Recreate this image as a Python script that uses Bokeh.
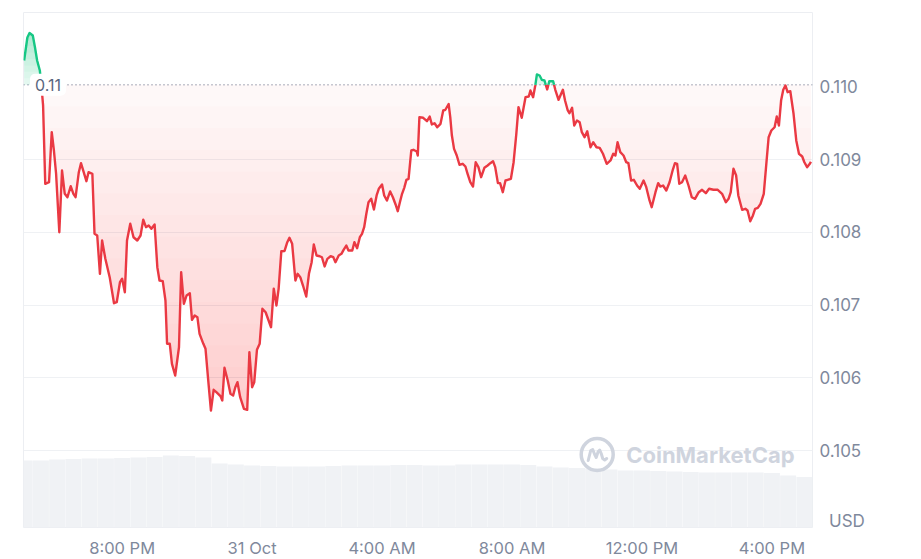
import numpy as np
import pandas as pd
from bokeh.plotting import figure
from bokeh.models import Range1d, FixedTicker, NumeralTickFormatter, Span, Label
from bokeh.embed import file_html
from bokeh.resources import INLINE

# ---------------- data ----------------
start_time = "2024-10-30 17:00"
minutes_from_start = [
    -1, 5, 9, 15, 19, 23, 28, 31, 34, 38, 45, 50, 54, 58, 64, 69, 74, 79, 85, 90,
    94, 100, 104, 109, 114, 118, 125, 129, 134, 139, 143, 149, 157, 165, 170, 176, 180, 185, 189, 195,
    201, 208, 214, 219, 224, 229, 234, 240, 245, 249, 255, 260, 263, 268, 272, 278, 285, 289, 294, 299,
    305, 309, 314, 319, 323, 330, 334, 339, 344, 349, 354, 362, 365, 369, 375, 380, 385, 389, 393, 398,
    405, 411, 415, 420, 424, 429, 434, 439, 445, 455, 460, 465, 469, 474, 480, 485, 489, 494, 500, 504,
    509, 514, 520, 525, 530, 534, 539, 545, 549, 554, 559, 565, 570, 574, 580, 585, 589, 594, 598, 605,
    609, 614, 619, 623, 627, 631, 635, 640, 645, 650, 654, 660, 664, 669, 675, 680, 685, 689, 693, 697,
    701, 705, 709, 714, 718, 724, 726, 729, 736, 743, 748, 752, 757, 762, 768, 773, 777, 783, 786, 789,
    793, 798, 803, 809, 814, 818, 823, 828, 833, 838, 843, 849, 855, 860, 865, 869, 874, 878, 883, 888,
    892, 898, 903, 908, 912, 918, 925, 931, 934, 939, 943, 946, 951, 955, 960, 965, 969, 976, 980, 986,
    994, 998, 1003, 1006, 1011, 1015, 1020, 1025, 1029, 1034, 1039, 1045, 1050, 1056, 1062, 1068, 1075, 1082, 1087, 1091,
    1095, 1100, 1106, 1111, 1115, 1120, 1125, 1131, 1136, 1143, 1148, 1154, 1158, 1165, 1170, 1174, 1179, 1185, 1191, 1197,
    1201, 1205, 1209, 1214, 1220, 1226, 1232, 1238, 1245, 1251, 1258, 1264, 1272, 1280, 1288, 1295, 1300, 1304, 1309, 1314,
    1318, 1325, 1331, 1335, 1340, 1345, 1349, 1354, 1359, 1365, 1370, 1374, 1379, 1385, 1389, 1393, 1397, 1401, 1405, 1409,
    1414, 1420, 1425, 1430, 1436, 1440, 1445, 1450, 1452,
]
price_usd = [
    0.110364, 0.110680, 0.110742, 0.110708, 0.110547, 0.110364, 0.110227, 0.110007, 0.109746, 0.108669,
    0.108691, 0.109379, 0.109127, 0.108811, 0.108004, 0.108852, 0.108532, 0.108485, 0.108636, 0.108532,
    0.108485, 0.108829, 0.108953, 0.108829, 0.108705, 0.108829, 0.108807, 0.107982, 0.107959, 0.107432,
    0.107890, 0.107638, 0.107386, 0.107028, 0.107042, 0.107317, 0.107364, 0.107179, 0.107890, 0.108120,
    0.107935, 0.107890, 0.107959, 0.108175, 0.108073, 0.108096, 0.108051, 0.108110, 0.107523, 0.107340,
    0.107331, 0.107065, 0.106470, 0.106470, 0.106195, 0.106034, 0.106423, 0.107454, 0.107020, 0.107134,
    0.107166, 0.106800, 0.106859, 0.106836, 0.106607, 0.106470, 0.106401, 0.105966, 0.105553, 0.105838,
    0.105805, 0.105746, 0.105691, 0.106140, 0.105966, 0.105783, 0.105759, 0.105873, 0.105942, 0.105736,
    0.105577, 0.105563, 0.106355, 0.105873, 0.105942, 0.106388, 0.106470, 0.106951, 0.106904, 0.106698,
    0.107226, 0.106997, 0.107226, 0.107743, 0.107746, 0.107867, 0.107927, 0.107845, 0.107340, 0.107432,
    0.107386, 0.107271, 0.107120, 0.107432, 0.107592, 0.107835, 0.107684, 0.107674, 0.107660, 0.107533,
    0.107638, 0.107674, 0.107660, 0.107592, 0.107684, 0.107707, 0.107762, 0.107821, 0.107753, 0.107753,
    0.107867, 0.107784, 0.107935, 0.107982, 0.108073, 0.108257, 0.108416, 0.108463, 0.108316, 0.108509,
    0.108601, 0.108660, 0.108509, 0.108440, 0.108564, 0.108485, 0.108385, 0.108293, 0.108416, 0.108532,
    0.108614, 0.108724, 0.108738, 0.109127, 0.109137, 0.109113, 0.109058, 0.109585, 0.109577, 0.109530,
    0.109594, 0.109485, 0.109502, 0.109447, 0.109494, 0.109677, 0.109687, 0.109766, 0.109585, 0.109333,
    0.109150, 0.109058, 0.108931, 0.108944, 0.108907, 0.108807, 0.108691, 0.108632, 0.108966, 0.108898,
    0.108760, 0.108889, 0.108921, 0.108953, 0.108980, 0.108898, 0.108678, 0.108678, 0.108554, 0.108715,
    0.108724, 0.108738, 0.108966, 0.109357, 0.109722, 0.109577, 0.109860, 0.109869, 0.109952, 0.109860,
    0.110021, 0.110172, 0.110158, 0.110099, 0.110089, 0.109966, 0.110080, 0.110080, 0.109962, 0.109824,
    0.109962, 0.109814, 0.109677, 0.109640, 0.109714, 0.109471, 0.109540, 0.109516, 0.109379, 0.109310,
    0.109392, 0.109172, 0.109241, 0.109172, 0.109164, 0.109082, 0.108944, 0.108990, 0.109082, 0.109058,
    0.109241, 0.109104, 0.109058, 0.108966, 0.108953, 0.108715, 0.108724, 0.108646, 0.108601, 0.108715,
    0.108623, 0.108440, 0.108348, 0.108554, 0.108678, 0.108632, 0.108646, 0.108577, 0.108691, 0.108862,
    0.108953, 0.108944, 0.108669, 0.108691, 0.108783, 0.108646, 0.108485, 0.108463, 0.108554, 0.108587,
    0.108540, 0.108601, 0.108587, 0.108587, 0.108532, 0.108416, 0.108463, 0.108554, 0.108876, 0.108783,
    0.108509, 0.108312, 0.108326, 0.108302, 0.108155, 0.108234, 0.108326, 0.108339, 0.108394, 0.108532,
    0.108966, 0.109310, 0.109402, 0.109447, 0.109594, 0.109471, 0.109814, 0.109962, 0.110021, 0.109929,
    0.109942, 0.109632, 0.109265, 0.109082, 0.109045, 0.108966, 0.108898, 0.108944, 0.108972,
]
open_price = 0.11003
open_label = "0.11"

volume_slot_minutes = 30
volume_musd = [
    6.7, 6.7, 6.8, 6.85, 6.9, 6.9, 6.95, 7.0, 7.05, 7.2, 7.15, 7.0, 6.4, 6.3, 6.2, 6.15, 6.1,
    6.1, 6.1, 6.15, 6.2, 6.2, 6.2, 6.25, 6.25, 6.2, 6.2, 6.3, 6.3, 6.3, 6.3, 6.25, 6.1,
    6.0, 5.95, 5.9, 5.8, 5.7, 5.7, 5.65, 5.6, 5.55, 5.5, 5.5, 5.5, 5.5, 5.45, 5.2, 5.05,
]

y_ticks = [0.105, 0.106, 0.107, 0.108, 0.109, 0.110]
y_tick_labels = ["0.105", "0.106", "0.107", "0.108", "0.109", "0.110"]
currency = "USD"
currency_tick = 0.10404
x_tick_times = ["2024-10-30 20:00", "2024-10-31 00:00", "2024-10-31 04:00",
                "2024-10-31 08:00", "2024-10-31 12:00", "2024-10-31 16:00"]
x_tick_labels = ["8:00 PM", "31 Oct", "4:00 AM", "8:00 AM", "12:00 PM", "4:00 PM"]
view_start = "2024-10-30 16:57:50"
view_end = "2024-10-31 17:15:00"
price_view = (0.103945, 0.111024)
volume_view_max = 51.5
watermark = "CoinMarketCap"

# ---------------- styles ----------------
RED = "#ea3943"
GREEN = "#16c784"
GRID = "#eff1f4"
AXIS_TEXT = "#7f899c"
FONT = "Inter"
WM = "#cfd4de"
FW, FH = 789, 515
BL, BR, BT, BB = 23, 101, 12, 32


def to_ms(ts):
    return pd.Timestamp(ts).value // 10**6


t0 = to_ms(start_time)
t = t0 + np.array(minutes_from_start, dtype=float) * 60000.0
pr = np.array(price_usd, dtype=float)

# insert baseline crossings so colours switch exactly at the open price
xs, ys = [t[0]], [pr[0]]
for i in range(len(pr) - 1):
    a, b = pr[i] - open_price, pr[i + 1] - open_price
    if a * b < 0:
        f = a / (a - b)
        xs.append(t[i] + f * (t[i + 1] - t[i]))
        ys.append(open_price)
    xs.append(t[i + 1])
    ys.append(pr[i + 1])
xs = np.array(xs)
ys = np.array(ys)

x0, x1 = to_ms(view_start), to_ms(view_end)
p = figure(frame_width=FW, frame_height=FH, x_axis_type="datetime", y_axis_location="right",
           x_range=Range1d(x0, x1), y_range=Range1d(*price_view),
           output_backend="svg", toolbar_location=None,
           min_border_left=BL, min_border_right=BR, min_border_top=BT, min_border_bottom=BB)
p.background_fill_color = "white"
p.border_fill_color = "white"
p.outline_line_color = "#eceef2"
p.xgrid.visible = False
p.ygrid.grid_line_color = GRID
p.ygrid.ticker = FixedTicker(ticks=[v for v in y_ticks if v < open_price - 0.0005])

# volume bars
p.extra_y_ranges = {"vol": Range1d(0, volume_view_max)}
vt = t0 + np.arange(len(volume_musd)) * volume_slot_minutes * 60000.0
p.vbar(x=vt, top=volume_musd, width=volume_slot_minutes * 60000.0 * 0.985,
       y_range_name="vol", fill_color="#f0f2f5", line_color=None)


def frame_to_data(sx, sy):
    return (x0 + sx / FW * (x1 - x0),
            price_view[0] + sy / FH * (price_view[1] - price_view[0]))


# watermark
lx, ly = 596.7 - BL, BT + FH - 454
cx, cy = frame_to_data(lx, ly)
p.scatter([cx], [cy], marker="circle", size=32, fill_color=None, line_color=WM, line_width=3.5)
wave = [(-9, -6), (-6.5, 4), (-4.5, 5), (-2.5, 0), (-1, -3), (1, 3), (2.5, 4.5), (4, 1), (5.5, -4), (7.5, -5.5), (9.5, -4)]
wx, wy = zip(*[frame_to_data(lx + dx, ly + dy) for dx, dy in wave])
p.line(list(wx), list(wy), line_color=WM, line_width=3, line_join="round", line_cap="round")
p.add_layout(Label(x=625.7 - BL, y=BT + FH - 454.7, x_units="screen", y_units="screen", text=watermark,
                   text_align="left", text_baseline="middle", text_font=FONT, text_font_size="22px",
                   text_font_style="bold", text_color=WM))

# dotted open-price line
p.add_layout(Span(location=open_price, dimension="width", line_color="#8c94a6",
                  line_dash="1 3", line_width=1.4, level="underlay"))

# gradient fills (stacked translucent layers)
pmin, pmax = ys.min(), ys.max()
p.varea(x=xs, y1=np.minimum(ys, open_price), y2=open_price, fill_color=RED, fill_alpha=0.035)
N = 14
for k in range(1, N + 1):
    L = open_price - (open_price - pmin) * k / (N + 1)
    p.varea(x=xs, y1=np.minimum(ys, L), y2=L, fill_color=RED, fill_alpha=0.014)
p.varea(x=xs, y1=open_price, y2=np.maximum(ys, open_price), fill_color=GREEN, fill_alpha=0.12)
for k in range(1, 8):
    L = open_price + (pmax - open_price) * k / 8
    p.varea(x=xs, y1=L, y2=np.maximum(ys, L), fill_color=GREEN, fill_alpha=0.04)

red_y = np.where(ys <= open_price + 1e-12, ys, np.nan)
green_y = np.where(ys >= open_price - 1e-12, ys, np.nan)
p.line(xs, red_y, line_color=RED, line_width=2.4, line_join="round")
p.line(xs, green_y, line_color=GREEN, line_width=2.4, line_join="round")

# open price badge
p.add_layout(Label(x=47.5 - BL, y=open_price, x_units="screen", y_units="data", text=open_label,
                   text_align="center", text_baseline="middle", text_font=FONT, text_font_size="16px",
                   text_color="#58667e", background_fill_color="white", background_fill_alpha=1.0,
                   border_radius=5, padding=5))

# axes
xa = p.xaxis[0]
ticks_ms = [to_ms(s) for s in x_tick_times]
xa.ticker = FixedTicker(ticks=ticks_ms)
xa.major_label_overrides = {tk: lb for tk, lb in zip(ticks_ms, x_tick_labels)}
ya = p.yaxis[0]
ya.ticker = FixedTicker(ticks=y_ticks + [currency_tick])
ya.formatter = NumeralTickFormatter(format="0.000")
overrides = {tk: lb for tk, lb in zip(y_ticks, y_tick_labels)}
overrides[currency_tick] = "\u00a0\u00a0" + currency
ya.major_label_overrides = overrides
for ax in (xa, ya):
    ax.axis_line_color = None
    ax.major_tick_line_color = None
    ax.minor_tick_line_color = None
    ax.major_label_text_font = FONT
    ax.major_label_text_color = AXIS_TEXT
xa.major_label_text_font_size = "16.5px"
ya.major_label_text_font_size = "17px"
xa.major_label_standoff = 4
ya.major_label_standoff = 1

open("out.html", "w").write(file_html(p, INLINE))
